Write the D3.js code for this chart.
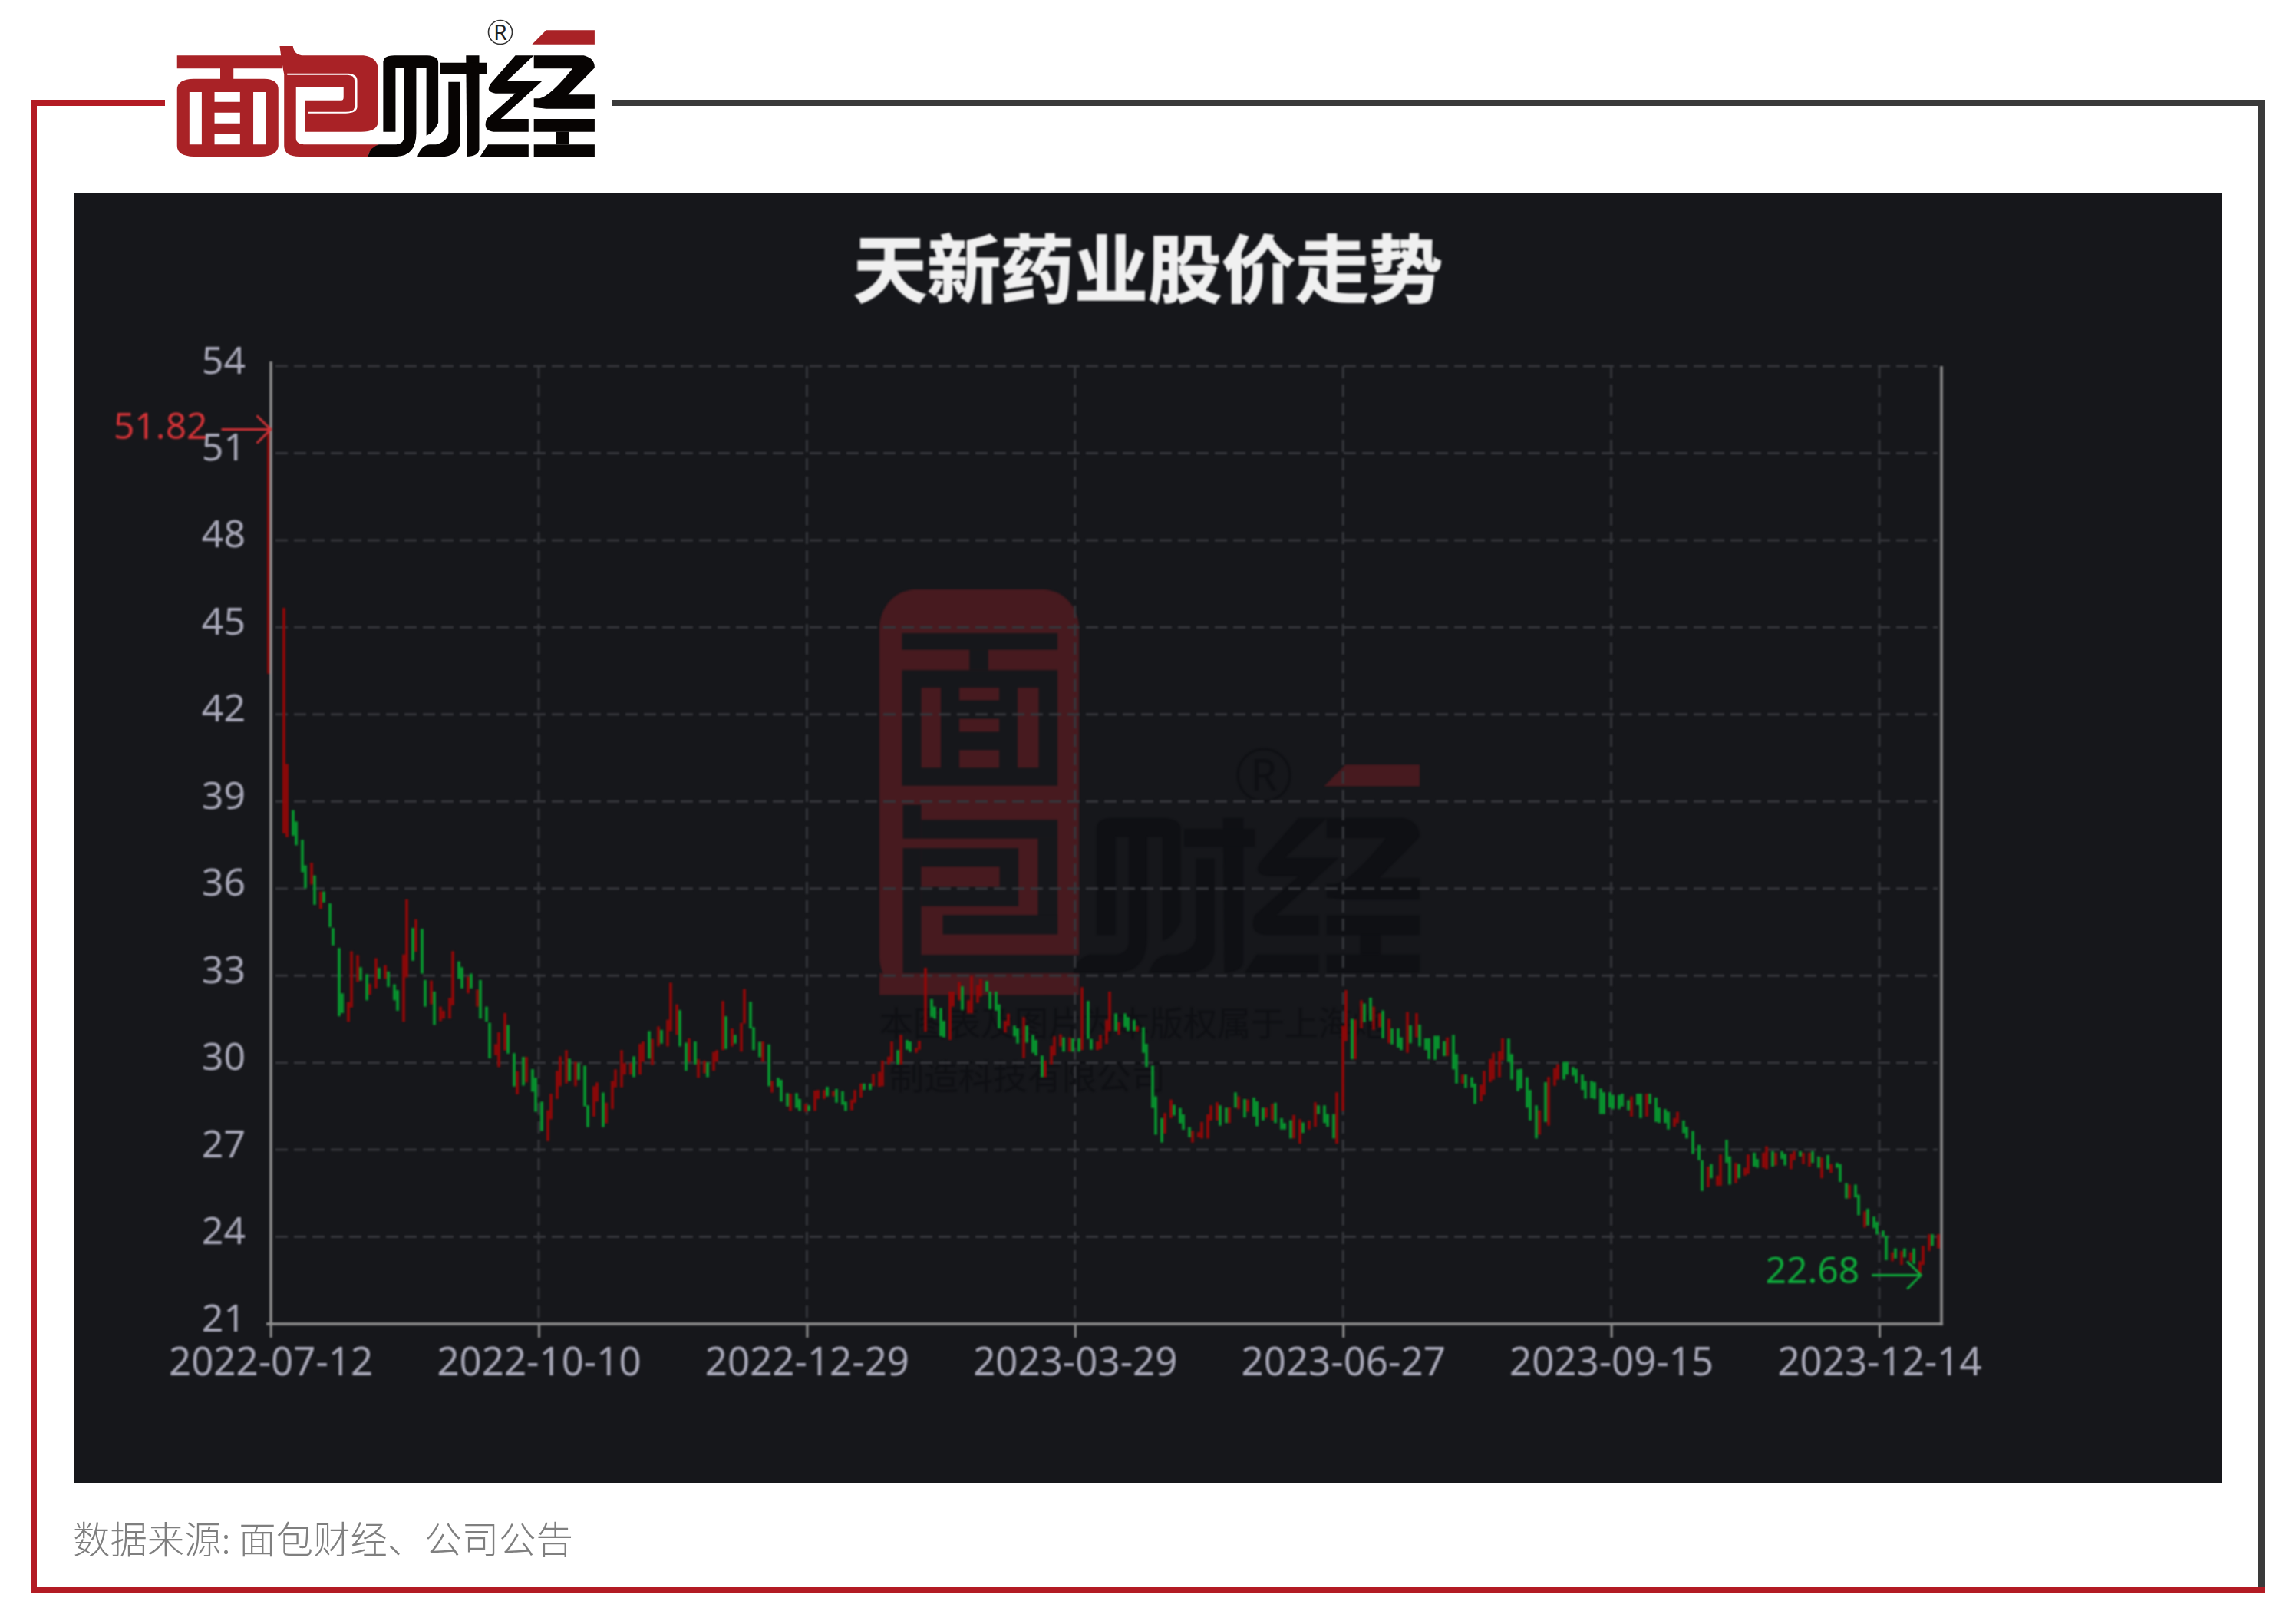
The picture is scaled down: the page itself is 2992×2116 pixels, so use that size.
<!DOCTYPE html>
<html><head><meta charset="utf-8">
<script src="https://cdnjs.cloudflare.com/ajax/libs/d3/7.8.5/d3.min.js"></script>
<style>html,body{margin:0;padding:0;background:#fff}svg{display:block}</style>
</head><body><svg id="c" width="2992" height="2116"></svg>
<script>
const titleText = "天新药业股价走势";
const sourceText = "数据来源: 面包财经、公司公告";
const xLabels = ["2022-07-12","2022-10-10","2022-12-29","2023-03-29","2023-06-27","2023-09-15","2023-12-14"];
const xTickIndex = [0,58,116,174,232,290,348];
const yTicks = [21,24,27,30,33,36,39,42,45,48,51,54];
const peak = {index:0, price:51.82};
const trough = {index:357, price:22.68};
const highs = [
51.82,null,null,45.67,40.29,38.70,38.31,37.68,36.80,36.89,
36.45,35.90,35.90,35.49,34.64,33.95,32.39,32.09,33.84,33.71,
33.29,33.05,32.72,33.60,33.27,33.36,33.14,32.70,32.50,33.73,
35.63,34.64,34.94,34.61,32.85,32.83,32.45,31.93,31.79,32.23,
33.84,33.49,33.29,32.96,33.07,32.52,32.85,31.93,31.38,30.64,
31.05,31.71,31.30,30.33,29.71,30.20,30.20,29.78,29.48,28.66,
28.36,28.93,29.72,30.22,30.43,30.14,30.03,29.99,29.90,28.53,
29.19,29.32,28.97,28.62,29.37,29.77,30.43,29.99,29.99,30.22,
30.65,30.73,31.09,30.82,31.25,31.13,31.48,32.76,32.01,31.81,
30.69,30.84,30.73,30.12,30.07,30.01,30.37,30.43,32.13,31.60,
31.18,30.96,31.37,32.54,32.10,31.22,30.72,30.73,30.63,29.37,
29.48,29.41,28.95,28.93,28.95,28.75,28.58,28.53,29.04,29.06,
29.06,29.17,29.02,29.10,29.02,28.66,28.73,29.06,29.28,29.28,
29.28,29.61,29.68,30.07,30.21,30.73,30.43,30.96,30.78,30.73,
30.51,30.75,33.27,32.19,31.93,31.88,31.44,32.45,32.45,32.78,
32.63,32.15,32.98,32.67,32.89,32.81,32.45,32.45,32.01,31.44,
31.69,31.28,31.18,31.57,31.28,30.96,30.78,30.25,30.07,30.58,
30.91,30.98,30.87,30.87,30.84,30.84,32.60,32.13,30.82,30.73,
30.96,31.48,32.45,31.70,31.40,31.70,31.57,31.48,31.26,31.22,
30.65,29.90,28.84,28.09,28.27,28.73,28.55,28.44,28.22,27.78,
27.65,27.61,27.96,28.22,28.53,28.64,28.53,28.45,28.46,28.98,
28.84,28.75,28.73,28.80,28.67,28.45,28.45,28.58,28.62,28.09,
27.92,28.02,28.20,28.05,27.94,28.01,28.64,28.53,28.53,28.23,
28.23,28.98,31.27,32.50,31.51,31.49,32.15,32.04,32.24,31.93,
31.71,31.80,31.51,31.18,31.18,30.87,31.75,31.29,31.71,31.31,
30.84,30.84,30.93,30.93,30.74,30.87,30.96,30.30,29.59,29.59,
29.50,29.28,29.24,29.72,30.12,30.34,30.39,30.84,30.83,30.30,
29.77,29.79,29.50,29.06,28.53,28.36,29.33,29.51,29.81,29.95,
30.03,30.03,29.85,29.79,29.59,29.37,29.37,29.33,29.11,28.98,
28.98,28.89,28.89,28.93,28.71,28.84,28.93,28.93,28.93,28.93,
28.80,28.45,28.40,28.31,28.09,28.31,28.01,27.79,27.65,27.17,
26.64,26.42,26.51,26.11,26.84,27.34,26.77,26.55,26.51,26.38,
26.84,26.90,26.68,26.90,27.12,26.95,26.90,26.95,26.86,26.86,
26.95,26.95,26.90,26.90,26.95,26.77,26.73,26.82,26.51,26.55,
26.51,25.85,25.80,25.80,25.45,24.88,24.97,24.70,24.52,24.22,
24.04,23.47,23.60,23.51,23.60,23.47,23.60,23.16,23.69,24.09,24.09,24.09];
const lows = [
43.40,null,null,37.90,37.77,37.82,37.49,36.56,36.01,36.14,
35.44,35.30,35.52,34.67,34.04,31.60,31.71,31.41,31.90,32.78,
32.83,32.15,32.34,32.56,32.89,32.89,32.61,32.15,31.79,31.41,
32.94,33.51,33.82,33.07,31.93,32.01,31.30,31.43,31.52,31.52,
31.98,32.89,32.56,32.39,32.56,31.93,31.52,31.41,30.15,30.26,
29.85,30.42,30.31,29.18,28.91,29.21,29.32,29.00,28.31,27.65,
27.30,28.05,28.75,29.19,29.28,29.37,29.19,29.41,28.49,27.78,
28.14,28.66,27.78,27.91,28.40,29.15,29.15,29.59,29.59,29.50,
29.59,30.03,30.14,29.92,30.56,30.66,30.56,31.09,30.96,30.56,
29.72,30.03,29.94,29.48,29.63,29.50,29.72,30.03,30.43,30.47,
30.56,30.66,30.38,31.35,31.18,30.43,30.19,30.03,29.19,28.97,
29.17,28.66,28.49,28.34,28.44,28.34,28.31,28.34,28.34,28.75,
28.75,28.84,28.84,28.62,28.55,28.34,28.36,28.62,28.80,29.06,
29.06,29.19,29.17,29.19,29.94,30.03,29.94,29.94,30.45,30.37,
30.34,30.45,31.07,31.57,31.51,30.91,30.87,30.78,31.93,32.15,
31.81,31.70,31.70,32.06,32.28,32.45,31.84,31.79,31.18,31.04,
31.26,30.91,30.66,30.16,30.69,30.34,30.25,29.50,29.50,29.94,
30.25,30.56,30.38,30.38,30.38,30.38,30.43,30.82,30.45,30.43,
30.47,30.65,31.09,31.09,30.96,31.22,31.09,31.09,31.07,30.34,
29.85,28.44,27.52,27.25,27.56,28.09,28.18,27.91,27.69,27.43,
27.25,27.43,27.39,27.39,28.01,28.01,27.83,27.92,27.92,28.45,
28.40,28.11,28.31,28.14,27.81,28.01,28.10,28.01,27.92,27.70,
27.70,27.39,27.39,27.21,27.58,27.70,27.79,28.23,27.92,27.79,
27.39,27.21,28.34,30.74,30.12,30.12,31.18,31.40,31.44,31.13,
31.22,30.84,30.67,30.63,30.52,30.43,30.34,30.67,30.87,30.56,
30.43,30.12,30.10,30.47,30.23,30.23,29.77,29.28,29.28,29.13,
29.15,28.58,28.67,28.89,29.33,29.42,29.50,30.08,30.02,29.42,
29.02,29.11,28.45,28.01,27.39,27.52,27.96,27.83,29.20,29.42,
29.42,29.59,29.55,29.30,29.06,28.76,28.78,28.75,28.23,28.23,
28.45,28.40,28.40,28.49,28.36,28.14,28.54,28.09,28.14,28.58,
27.96,27.92,27.92,27.70,27.79,27.92,27.57,27.39,26.86,26.64,
25.58,25.71,26.02,25.76,25.76,26.55,25.80,25.85,26.02,26.11,
26.16,26.42,26.38,26.38,26.33,26.42,26.46,26.68,26.46,26.33,
26.64,26.77,26.51,26.42,26.55,26.38,26.02,26.33,26.20,26.38,
25.89,25.32,25.32,25.36,24.74,24.32,24.39,24.30,24.08,24.00,
23.20,23.16,23.25,23.03,23.29,23.16,23.07,22.68,23.03,23.51,23.69,23.60];
const rising = [
1,0,0,1,1,0,0,0,0,1, 0,1,0,0,0,0,0,1,1,1, 0,0,1,1,0,1,0,0,0,1, 1,0,1,0,0,1,0,1,1,1,
1,0,0,1,0,1,0,0,0,1, 1,1,0,0,1,0,1,0,0,0, 1,1,1,1,1,0,1,0,0,0, 1,1,0,1,1,1,1,1,1,0,
1,1,0,1,1,0,1,1,1,0, 0,1,0,1,1,0,1,1,1,0, 1,0,1,1,0,0,0,1,0,1, 0,0,0,1,0,0,1,0,1,1,
1,0,1,0,0,0,1,1,1,0, 0,1,1,1,1,1,0,1,0,0, 1,1,1,0,0,0,0,1,1,1, 0,1,1,1,1,0,0,0,0,1,
1,0,0,1,0,0,0,0,1,1, 1,1,0,1,0,0,1,0,0,1, 1,1,1,0,1,0,0,0,1,0, 0,0,0,0,1,1,0,0,0,0,
1,1,1,1,1,1,0,0,1,0, 1,0,1,0,0,0,1,1,0,0, 0,0,1,1,0,1,1,0,0,0, 0,1,1,1,0,1,1,0,0,1,
1,0,1,0,0,0,1,0,1,0, 0,0,0,0,0,1,0,0,1,0, 0,0,1,1,1,1,1,1,0,0, 0,0,0,0,0,1,0,1,1,1,
0,0,0,0,0,0,0,0,0,0, 0,0,0,0,0,1,0,0,1,0, 0,0,0,0,1,1,0,0,0,0, 0,1,0,1,1,0,0,1,0,1,
1,0,0,1,1,0,1,0,0,1, 1,0,1,1,0,0,1,0,1,0, 0,0,1,0,0,1,0,0,0,0, 0,1,0,1,0,1,0,1,1,1,0,1];

const FONT = "'Noto Sans','Noto Sans CJK SC',sans-serif";
const CJK = "'Noto Sans CJK SC','Noto Sans',sans-serif";
const svg = d3.select("#c");
const BG = "#16171b", WM_RED="#471a1f", WM_DARK="#0f1014";
svg.append("rect").attr("width",2992).attr("height",2116).attr("fill","#fff");

// frame
const frame = svg.append("g");
const fr=(x,y,w,h,c)=>frame.append("rect").attr("x",x).attr("y",y).attr("width",w).attr("height",h).attr("fill",c);
fr(798,130,2153,8,"#3a3a3a"); fr(2943,130,8,1942,"#3a3a3a");
fr(40,130,175,8,"#b31b23"); fr(40,130,8,1946,"#b31b23"); fr(40,2068,2911,8,"#b31b23");

// logo glyph shapes (drawn in the logo's own artwork space)
const logoRedPaths = [
 "M402,217H640V268H530V308H600Q632,310 632,350V570Q630,612 590,612H440Q402,610 402,570V350Q402,310 440,308H500V268H402Z M430,360V565H458V360Z M487,360V398H545V360Z M487,440V482H545V440Z M487,523V565H545V523Z M575,360V565H603V360Z",
 "M635,180H665Q668,217 690,217H825Q858,225 858,270V480Q855,515 820,515H693V392H775Q780,392 780,380V342H672V540Q672,565 695,565H860Q840,580 835,612H680Q645,612 645,570V290Q640,250 635,180Z"];
const logoChannel = "M652,290H790Q808,292 808,315V420Q806,440 785,440H700";
const logoDarkPaths = [
 "M870,515V240Q872,217 895,217H970Q995,220 995,245V480Q985,520 968,530V265H945V520Q945,610 900,612H835Q840,575 860,565H900Q918,560 918,530V265H898V515Z",
 "M948,612Q955,570 975,565H990Q1015,555 1018,520V320H1045V560Q1040,605 1010,612Z",
 "M1058,217H1088V585Q1085,610 1060,612Z","M1000,245H1105V290H1000Z",
 "M1170,217H1212L1150,318H1230L1137,465H1200V515H1120Q1095,510 1105,465L1170,365H1125Q1100,360 1115,325Z",
 "M1108,565H1200V612H1090Z",
 "M1212,217H1325Q1350,225 1350,265L1290,370H1350V425H1240Q1215,420 1212,420V385H1225Q1250,375 1300,268H1212Z",
 "M1212,465H1350V515H1212Z","M1262,515H1292V565H1262Z","M1212,565H1350V612H1212Z"];
const wedgePath = "M1240,118H1350V173H1208Z";

// top logo
const logo = svg.append("g").attr("transform","scale(0.574,0.3333)");
logoRedPaths.forEach(d=>logo.append("path").attr("d",d).attr("fill","#a92226").attr("fill-rule","evenodd"));
logo.append("path").attr("d",logoChannel).attr("fill","none").attr("stroke","#fff").attr("stroke-width",6);
logoDarkPaths.forEach(d=>logo.append("path").attr("d",d).attr("fill","#070403"));
logo.append("path").attr("d",wedgePath).attr("fill","#a92226");
svg.append("circle").attr("cx",652).attr("cy",42).attr("r",15.5).attr("fill","none").attr("stroke","#333").attr("stroke-width",1.6);
svg.append("text").attr("x",652).attr("y",52).attr("text-anchor","middle").attr("font-family",FONT).attr("font-size",28).attr("fill","#222").text("R");

// panel
svg.append("rect").attr("x",96).attr("y",252).attr("width",2800).attr("height",1680).attr("fill",BG);
const panel = svg.append("g").style("filter","blur(0.9px)");

// watermark icon
const wm = panel.append("g").attr("transform","translate(1100,740) scale(0.5102,0.4591)");
wm.append("rect").attr("x",90).attr("y",62).attr("width",510).attr("height",1150).attr("rx",90).attr("ry",110).attr("fill",WM_RED);
wm.append("rect").attr("x",90).attr("y",1150).attr("width",510).attr("height",62).attr("fill",WM_RED);
[[148,185,545,232],[320,232,368,290],[148,290,545,618],[150,672,197,768],[197,715,545,768],[150,795,197,1150],
 [197,795,445,960],[495,768,545,1040],[252,985,545,1040],[197,1098,600,1150]].forEach(r=>
  wm.append("rect").attr("x",r[0]).attr("y",r[1]).attr("width",r[2]-r[0]).attr("height",r[3]-r[1]).attr("fill",BG));
[[197,340,247,567],[294,340,396,376],[294,428,396,465],[294,517,396,567],[443,340,497,567],[197,848,397,905]].forEach(r=>
  wm.append("rect").attr("x",r[0]).attr("y",r[1]).attr("width",r[2]-r[0]).attr("height",r[3]-r[1]).attr("fill",WM_RED));
const wm2 = panel.append("g").attr("transform","translate(666,955) scale(0.877,0.511)");
logoDarkPaths.forEach(d=>wm2.append("path").attr("d",d).attr("fill",WM_DARK));
const wm3 = panel.append("g").attr("transform","translate(666,936) scale(0.877,0.511)");
wm3.append("path").attr("d",wedgePath).attr("fill",WM_RED);
panel.append("circle").attr("cx",1647).attr("cy",1010).attr("r",34).attr("fill","none").attr("stroke",WM_DARK).attr("stroke-width",3);
panel.append("text").attr("x",1647).attr("y",1030).attr("text-anchor","middle").attr("font-family",FONT).attr("font-size",56).attr("fill",WM_DARK).text("R");
panel.append("text").attr("x",1146).attr("y",1350).attr("font-family",CJK).attr("font-size",44).attr("fill","#0f1014").text("本图表及图片为本版权属于上海炮");
panel.append("text").attr("x",1159).attr("y",1420).attr("font-family",CJK).attr("font-size",45).attr("fill","#0f1014").text("制造科技有限公司");

// title
panel.append("text").attr("x",1496).attr("y",386).attr("text-anchor","middle").attr("font-family",CJK)
  .attr("font-weight",700).attr("font-size",96).attr("fill","#f0f0f0").attr("stroke","#f0f0f0").attr("stroke-width",1.5).text(titleText);

// scales
const x = d3.scalePoint().domain(d3.range(highs.length)).range([352.6,2527.3]);
const y = d3.scaleLinear().domain([21,54]).range([1725,477]);
const PL=353, PR=2530;

// grid
panel.append("g").selectAll("line").data(yTicks.filter(t=>t>21)).join("line")
  .attr("x1",PL+6).attr("x2",PR-5).attr("y1",d=>y(d)).attr("y2",d=>y(d))
  .attr("stroke","#35363b").attr("stroke-width",3).attr("stroke-dasharray","16 8");
panel.append("g").selectAll("line").data(xTickIndex.slice(1)).join("line")
  .attr("x1",d=>x(d)).attr("x2",d=>x(d)).attr("y1",477).attr("y2",1725)
  .attr("stroke","#35363b").attr("stroke-width",3).attr("stroke-dasharray","16 8");

// candles: the source is a low-resolution bitmap, so bars sit on its coarse pixel grid
const snap = v => Math.floor((v-2)/4)*4+2;
const idx = d3.range(highs.length).filter(i=>highs[i]!==null);
panel.append("g").selectAll("rect").data(idx).join("rect")
  .attr("x",i=>snap(x(i))-1.9).attr("width",3.8)
  .attr("y",i=>y(highs[i])).attr("height",i=>y(lows[i])-y(highs[i]))
  .attr("fill",i=>rising[i]?"#8f0808":"#08962f");

// axes
const AX="#8f8f8f", TXT="#a8a8b8";
const xAxis = d3.axisBottom(d3.scaleLinear().domain([0,361]).range([352.6,2527.3]))
  .tickValues(xTickIndex).tickFormat((d,i)=>xLabels[i]).tickSizeInner(18).tickSizeOuter(0).tickPadding(13);
const gx = panel.append("g").attr("transform","translate(0,1725)").call(xAxis);
gx.select(".domain").remove();
gx.selectAll("line").attr("stroke",AX).attr("stroke-width",3);
gx.selectAll("text").attr("font-family",FONT).attr("font-size",51).attr("fill",TXT).attr("dy","0.71em");
const yAxis = d3.axisLeft(y).tickValues(yTicks).tickFormat(d3.format("d")).tickSize(0).tickPadding(33);
const gy = panel.append("g").attr("transform","translate(353,0)").call(yAxis);
gy.select(".domain").remove();
gy.selectAll("text").attr("font-family",FONT).attr("font-size",50).attr("fill",TXT).attr("dy","9").attr("text-anchor","end");
const lines=[[PL,471,PL,1727],[PL-6,1725,PR+2,1725],[PR,477,PR,1727]];
panel.append("g").selectAll("line").data(lines).join("line")
 .attr("x1",d=>d[0]).attr("y1",d=>d[1]).attr("x2",d=>d[2]).attr("y2",d=>d[3]).attr("stroke",AX).attr("stroke-width",3.5);

// extreme markers
function marker(m,color,labelBack,base){
  const px=x(m.index), py=y(m.price);
  const g=panel.append("g").attr("fill","none").attr("stroke",color).attr("stroke-width",3);
  g.append("line").attr("x1",px-64).attr("x2",px).attr("y1",py).attr("y2",py);
  g.append("polyline").attr("points",`${px-18},${py-18} ${px},${py} ${px-18},${py+18}`);
  panel.append("text").attr("x",px-labelBack).attr("y",py+base).attr("text-anchor","end")
    .attr("font-family",FONT).attr("font-size",48).attr("fill",color).text(m.price.toFixed(2));
}
marker(peak,"#cf3236",82,13);
marker(trough,"#0ea83a",80,11);

// source
svg.append("text").attr("x",95).attr("y",2024).attr("font-family",CJK).attr("font-weight",300)
  .attr("font-size",48.4).attr("fill","#7f7f7f").text(sourceText);
</script></body></html>
